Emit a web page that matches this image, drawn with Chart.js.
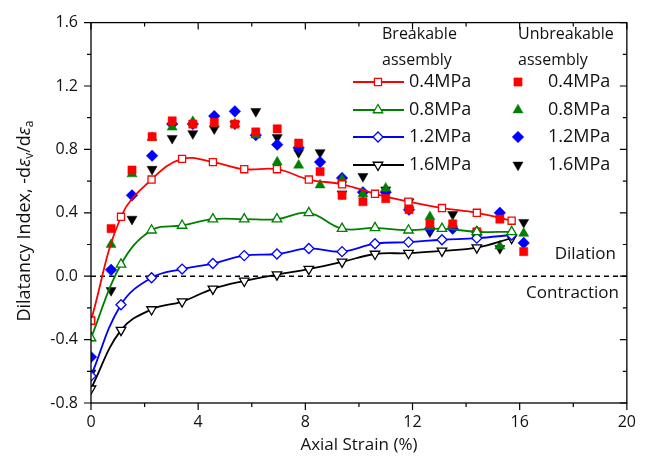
<!DOCTYPE html>
<html><head><meta charset="utf-8">
<script src="https://cdn.jsdelivr.net/npm/chart.js@4.4.1/dist/chart.umd.min.js"></script>
<style>html,body{margin:0;padding:0;background:#fff}#c{display:block}</style>
</head><body>
<canvas id="c" width="646" height="467"></canvas>
<script>
// ---- data ----
const brkStrain = [0, 1.12, 2.26, 3.4, 4.55, 5.72, 6.94, 8.13, 9.37, 10.6, 11.85, 13.1, 14.4, 15.7];
const brk04 = [-0.28, 0.375, 0.61, 0.74, 0.72, 0.675, 0.675, 0.61, 0.58, 0.52, 0.47, 0.43, 0.40, 0.35];
const brk08 = [-0.39, 0.075, 0.29, 0.32, 0.36, 0.36, 0.36, 0.40, 0.30, 0.305, 0.29, 0.30, 0.28, 0.28];
const brk12 = [-0.63, -0.18, -0.01, 0.045, 0.08, 0.13, 0.14, 0.175, 0.155, 0.205, 0.215, 0.23, 0.24, 0.26];
const brk16 = [-0.71, -0.34, -0.21, -0.16, -0.08, -0.03, 0.01, 0.045, 0.09, 0.14, 0.145, 0.16, 0.18, 0.24];

const unbStrain = [0, 0.75, 1.53, 2.28, 3.03, 3.8, 4.6, 5.37, 6.15, 6.95, 7.75, 8.55, 9.37, 10.15, 11.0, 11.87, 12.65, 13.5, 14.4, 15.26, 16.15];
const unb04 = [-0.28, 0.30, 0.67, 0.88, 0.98, 0.96, 0.97, 0.96, 0.91, 0.93, 0.84, 0.66, 0.51, 0.47, 0.49, 0.42, 0.33, 0.33, 0.28, 0.36, 0.155];
const unb08 = [-0.39, 0.20, 0.645, 0.875, 0.94, 0.975, 0.96, 0.96, 0.89, 0.72, 0.70, 0.575, 0.61, 0.52, 0.555, 0.45, 0.375, 0.33, 0.28, 0.19, 0.27];
const unb12 = [-0.51, 0.04, 0.51, 0.76, 0.96, 0.96, 1.01, 1.04, 0.89, 0.83, 0.81, 0.72, 0.62, 0.53, 0.53, 0.42, 0.30, 0.30, 0.28, 0.40, 0.21];
const unb16 = [-0.61, -0.09, 0.36, 0.675, 0.87, 0.90, 0.93, 0.96, 1.04, 0.875, 0.78, 0.78, 0.52, 0.63, 0.545, 0.47, 0.28, 0.39, 0.245, 0.175, 0.34];

const pressureLabels = ['0.4MPa', '0.8MPa', '1.2MPa', '1.6MPa'];
const xTickLabels = [0, 4, 8, 12, 16, 20];
const yTickLabels = [-0.8, -0.4, 0.0, 0.4, 0.8, 1.2, 1.6];
const groupTitles = [['Breakable', 'assembly'], ['Unbreakable', 'assembly']];
const zoneLabels = ['Dilation', 'Contraction'];
const xTitle = 'Axial Strain (%)';

// ---- styles ----
const colors = ['#ff0000', '#008000', '#0000ff', '#000000'];
const styles = [
  {pointStyle: 'rect', rotation: 0, rOpen: 5, rFill: 5.8},
  {pointStyle: 'triangle', rotation: 0, rOpen: 5.5, rFill: 5.8},
  {pointStyle: 'rectRot', rotation: 0, rOpen: 5, rFill: 5.8},
  {pointStyle: 'triangle', rotation: 180, rOpen: 5.5, rFill: 5.8}
];
const FONT = "'Open Sans', 'Noto Sans', sans-serif";
const TXT = '#111';
const brkSeries = [brk04, brk08, brk12, brk16];
const unbSeries = [unb04, unb08, unb12, unb16];

const datasets = [];
brkSeries.forEach((s, i) => {
  datasets.push({
    label: 'Breakable ' + pressureLabels[i],
    data: brkStrain.map((x, k) => ({x: x, y: s[k]})),
    showLine: true,
    borderColor: colors[i],
    borderWidth: 1.8,
    tension: 0.4,
    pointStyle: styles[i].pointStyle,
    pointRotation: styles[i].rotation,
    pointRadius: styles[i].rOpen,
    pointBackgroundColor: '#ffffff',
    pointBorderColor: colors[i],
    pointBorderWidth: 1.3
  });
});
unbSeries.forEach((s, i) => {
  datasets.push({
    label: 'Unbreakable ' + pressureLabels[i],
    data: unbStrain.map((x, k) => ({x: x, y: s[k]})),
    showLine: false,
    pointStyle: styles[i].pointStyle,
    pointRotation: styles[i].rotation,
    pointRadius: styles[i].rFill,
    pointBackgroundColor: colors[i],
    pointBorderColor: colors[i],
    pointBorderWidth: 0.5
  });
});

function isMultiple(v, step) {
  return Math.abs(Math.round(v / step) * step - v) < 1e-6;
}

const decor = {
  id: 'decor',
  beforeDatasetsDraw(chart) {
    const ctx = chart.ctx, a = chart.chartArea;
    const y0 = chart.scales.y.getPixelForValue(0);
    ctx.save();
    ctx.strokeStyle = '#000';
    ctx.lineWidth = 1.6;
    ctx.setLineDash([5, 4]);
    ctx.beginPath();
    ctx.moveTo(a.left, y0);
    ctx.lineTo(a.right, y0);
    ctx.stroke();
    ctx.restore();
  },
  afterDraw(chart) {
    const ctx = chart.ctx, a = chart.chartArea;
    const xs = chart.scales.x, ys = chart.scales.y;
    ctx.save();
    // frame
    ctx.strokeStyle = '#000';
    ctx.lineWidth = 1.3;
    ctx.strokeRect(a.left, a.top, a.right - a.left, a.bottom - a.top);
    // ticks
    ctx.lineWidth = 1.2;
    ctx.beginPath();
    xs.ticks.forEach(t => {
      const px = xs.getPixelForValue(t.value);
      const len = isMultiple(t.value, 4) ? 7 : 4;
      ctx.moveTo(px, a.bottom); ctx.lineTo(px, a.bottom + len);
      ctx.moveTo(px, a.top); ctx.lineTo(px, a.top + len);
    });
    ys.ticks.forEach(t => {
      const py = ys.getPixelForValue(t.value);
      const len = isMultiple(t.value, 0.4) ? 7 : 4;
      ctx.moveTo(a.left, py); ctx.lineTo(a.left - len, py);
      ctx.moveTo(a.right, py); ctx.lineTo(a.right - len, py);
    });
    ctx.stroke();

    // axis titles
    ctx.fillStyle = TXT;
    ctx.font = '17px ' + FONT;
    ctx.textAlign = 'center';
    ctx.textBaseline = 'middle';
    ctx.fillText(xTitle, (a.left + a.right) / 2, 445);

    const parts = [
      {t: 'Dilatancy Index, -d', f: '18px ' + FONT, dy: 0},
      {t: '\u03b5', f: 'italic 18px ' + FONT, dy: 0},
      {t: 'v', f: '12px ' + FONT, dy: 5},
      {t: '/d', f: '18px ' + FONT, dy: 0},
      {t: '\u03b5', f: 'italic 18px ' + FONT, dy: 0},
      {t: 'a', f: '12px ' + FONT, dy: 5}
    ];
    let total = 0;
    parts.forEach(p => { ctx.font = p.f; p.w = ctx.measureText(p.t).width; total += p.w; });
    ctx.save();
    ctx.translate(25, 221);
    ctx.rotate(-Math.PI / 2);
    ctx.textAlign = 'left';
    let cx = -total / 2;
    parts.forEach(p => { ctx.font = p.f; ctx.fillText(p.t, cx, p.dy); cx += p.w; });
    ctx.restore();

    // zone labels
    ctx.font = '17px ' + FONT;
    ctx.textAlign = 'right';
    ctx.fillText(zoneLabels[0], 616, 254);
    ctx.fillText(zoneLabels[1], 619, 293);

    // legend
    const rowsY = [82, 110, 137, 165];
    ctx.textAlign = 'left';
    ctx.font = '16px ' + FONT;
    ctx.fillText(groupTitles[0][0], 382, 34);
    ctx.fillText(groupTitles[0][1], 382, 60);
    ctx.fillText(groupTitles[1][0], 518, 34);
    ctx.fillText(groupTitles[1][1], 518, 60);
    const draw = Chart.helpers && Chart.helpers.drawPoint;
    rowsY.forEach((ry, i) => {
      // breakable
      ctx.strokeStyle = colors[i];
      ctx.lineWidth = 1.8;
      ctx.beginPath(); ctx.moveTo(353, ry); ctx.lineTo(404, ry); ctx.stroke();
      ctx.fillStyle = '#fff';
      ctx.lineWidth = 1.3;
      if (draw) draw(ctx, {pointStyle: styles[i].pointStyle, rotation: styles[i].rotation, radius: styles[i].rOpen, borderWidth: 1.3}, 378, ry);
      // unbreakable
      ctx.fillStyle = colors[i];
      ctx.strokeStyle = colors[i];
      ctx.lineWidth = 0.5;
      if (draw) draw(ctx, {pointStyle: styles[i].pointStyle, rotation: styles[i].rotation, radius: styles[i].rFill, borderWidth: 0.5}, 518, ry);
      ctx.fillStyle = TXT;
      ctx.font = '18px ' + FONT;
      ctx.fillText(pressureLabels[i], 409, ry);
      ctx.fillText(pressureLabels[i], 548, ry);
    });
    ctx.restore();
  }
};

new Chart(document.getElementById('c'), {
  type: 'line',
  data: {datasets: datasets},
  options: {
    responsive: false,
    animation: false,
    devicePixelRatio: 1,
    layout: {padding: {top: 19, right: 19, left: 0, bottom: 0}},
    plugins: {legend: {display: false}, tooltip: {enabled: false}},
    scales: {
      x: {
        type: 'linear', min: 0, max: 20,
        grid: {display: false, drawTicks: false},
        border: {display: false},
        ticks: {
          stepSize: 2, autoSkip: false, maxRotation: 0, padding: 10,
          color: TXT, font: {size: 16, family: FONT},
          callback: v => xTickLabels.some(t => Math.abs(t - v) < 1e-6) ? String(Math.round(v)) : ''
        },
        afterFit: s => { s.height = 64; }
      },
      y: {
        type: 'linear', min: -0.8, max: 1.6,
        grid: {display: false, drawTicks: false},
        border: {display: false},
        ticks: {
          stepSize: 0.2, autoSkip: false, padding: 13,
          color: TXT, font: {size: 16, family: FONT},
          callback: v => yTickLabels.some(t => Math.abs(t - v) < 1e-6) ? (Math.abs(v) < 1e-9 ? '0.0' : v.toFixed(1)) : ''
        },
        afterFit: s => { s.width = 91; }
      }
    }
  },
  plugins: [decor]
});
</script>
</body></html>
